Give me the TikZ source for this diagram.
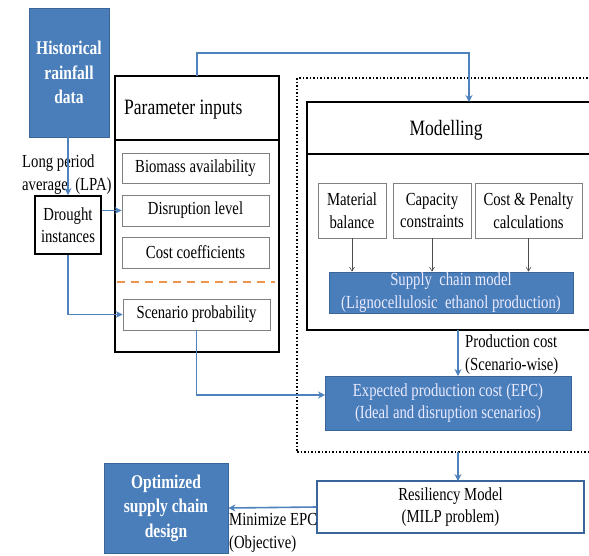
\documentclass[tikz,border=0pt]{standalone}
\usepackage{fontspec}
\setmainfont[FakeStretch=0.8]{Liberation Serif}
\usetikzlibrary{arrows.meta,calc}
\definecolor{bfill}{HTML}{4A7EBB}
\definecolor{bdraw}{HTML}{3A659A}
\definecolor{barrow}{HTML}{4F81BD}
\definecolor{orng}{HTML}{F0964A}
\definecolor{subgray}{HTML}{808080}
\tikzset{
  txt/.style={font=\fontsize{18.4}{22.5}\selectfont, align=center, inner sep=0pt},
  bluebox/.style={txt, fill=bfill, draw=bdraw, line width=0.8pt, text=white},
  thickbox/.style={txt, draw=black, line width=1.8pt},
  subbox/.style={txt, draw=subgray, line width=0.8pt},
  flow/.style={draw=barrow, line width=1.6pt, -{Stealth[length=7pt,width=7pt]}},
  thinflow/.style={draw=black!70, line width=0.6pt, -{Straight Barb[length=4pt,width=5pt]}},
  lbl/.style={font=\fontsize{18.4}{22.5}\selectfont, align=left, inner sep=0pt, anchor=base west},
  boldtxt/.style={font=\fontsize{19.4}{24.5}\selectfont\bfseries},
  titletxt/.style={inner sep=0pt, font=\fontsize{21.9}{24}\selectfont},
}
\begin{document}
\begin{tikzpicture}[x=1pt,y=-1pt]
\useasboundingbox (0,0) rectangle (589,555);
\clip (0,0) rectangle (589,555);
% historical
\node[bluebox, boldtxt, minimum width=80pt, minimum height=129pt] (hist) at (69,72.5) {Historical\\rainfall\\data};
\node[thickbox, minimum width=66pt, minimum height=58pt] (drought) at (68,225) {Drought\\instances};
% parameter inputs
\node[thickbox, minimum width=164pt, minimum height=64pt] (phead) at (197,108) {};
\node[titletxt, anchor=west] (ptitle) at (124,110) {Parameter inputs};
\node[thickbox, minimum width=164pt, minimum height=212pt] (pbody) at (197,246) {};
\node[subbox, minimum width=147pt, minimum height=30pt] (bio) at (195.5,168) {Biomass availability};
\node[subbox, minimum width=147pt, minimum height=31pt] (disr) at (195.5,210.5) {Disruption level};
\node[subbox, minimum width=147pt, minimum height=31pt] (cost) at (195.5,252.5) {Cost coefficients};
\coordinate (dashL) at (117,282);
\coordinate (dashR) at (275,282);
\draw[orng, line width=2pt, dash pattern=on 8pt off 6pt] (dashL) -- (dashR);
\node[subbox, minimum width=147pt, minimum height=31pt] (scen) at (196.5,314.5) {Scenario probability};
% dotted box
\node[draw=black, line width=1.5pt, dotted, minimum width=310pt, minimum height=374pt, inner sep=0pt] (dotbox) at (452,265) {};
% modelling
\node[thickbox, minimum width=300pt, minimum height=52pt] (mhead) at (457,128) {};
\node[titletxt] (mtitle) at (446,130) {Modelling};
\node[thickbox, minimum width=300pt, minimum height=176pt] (mbody) at (457,242) {};
\node[subbox, minimum width=68pt, minimum height=55pt] (mat) at (352,210.5) {Material\\balance};
\node[subbox, minimum width=78pt, minimum height=55pt] (cap) at (432,210.5) {Capacity\\constraints};
\node[subbox, minimum width=107pt, minimum height=55pt] (cpc) at (528.5,210.5) {Cost \& Penalty\\calculations};
\node[bluebox, minimum width=244pt, minimum height=41pt, text=white!92!blue] (sc) at (451,292.5) {Supply\ \ chain model\\(Lignocellulosic\ \ ethanol production)};
\node[bluebox, minimum width=246pt, minimum height=54pt, text=white!92!blue] (epc) at (448,403) {Expected production cost (EPC)\\(Ideal and disruption scenarios)};
\node[txt, draw=bdraw, line width=1.2pt, minimum width=267pt, minimum height=52pt] (res) at (450.5,507) {Resiliency Model\\(MILP problem)};
\node[bluebox, boldtxt, minimum width=124pt, minimum height=90pt] (opt) at (166,508) {Optimized\\supply chain\\design};
% labels (anchored at the baseline of their last line)
\node[lbl] (lpa) at (22,190) {Long period\\average\ \ (LPA)};
\node[lbl] (pcl) at (465,370) {Production cost\\(Scenario-wise)};
\node[lbl] (mepc) at (229,548) {Minimize EPC\\(Objective)};
% connectors
\draw[flow] (hist.south -| drought.north) -- (drought.north);
\draw[flow] (drought.east |- disr.west) -- (disr.west);
\draw[flow] (drought.south) |- (scen.west);
\coordinate (ptop) at (197,76);
\coordinate (mtop) at (469,102);
\draw[flow] (ptop) -- (197,53) -| (mtop);
\draw[thinflow] (mat.south) -- (mat.south |- sc.north);
\draw[thinflow] (cap.south |- mat.south) -- (cap.south |- sc.north);
\draw[thinflow] (cpc.south) -- (cpc.south |- sc.north);
\coordinate (mbot) at (458,330);
\coordinate (epctop) at (458,376);
\draw[flow] (mbot) -- (epctop);
\coordinate (epcin) at (325,395);
\draw[flow] (scen.south) |- (epcin);
\coordinate (dotbot) at (458,452);
\coordinate (restop) at (458,481);
\draw[flow] (dotbot) -- (restop);
\draw[flow] (res.west) -- (opt.east);
\end{tikzpicture}
\end{document}
